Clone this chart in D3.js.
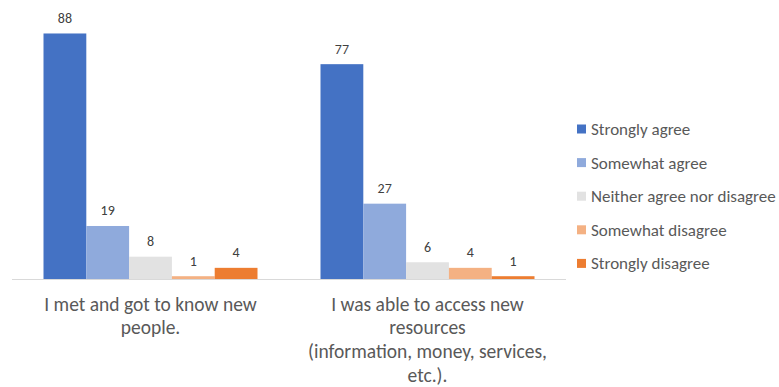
<!DOCTYPE html>
<html>
<head>
<meta charset="utf-8">
<script src="https://cdn.jsdelivr.net/npm/d3@7"></script>
<style>
  html, body { margin: 0; padding: 0; background: #fff; }
  svg { display: block; }
  text { font-family: Carlito, Lato, "Open Sans", sans-serif; fill: #595959; }
</style>
</head>
<body>
<svg id="chart" width="779" height="387"></svg>
<script>
// Survey statements shown along the x axis (one array entry per wrapped line)
const categories = [
  ["I met and got to know new", "people."],
  ["I was able to access new", "resources", "(information, money, services,", "etc.)."]
];
const seriesNames = ["Strongly agree", "Somewhat agree", "Neither agree nor disagree", "Somewhat disagree", "Strongly disagree"];
const seriesColors = ["#4472C4", "#8FAADC", "#E2E2E2", "#F4B183", "#ED7D31"];
// Responses per statement, in series order
const stronglyAgree = [88, 77];
const somewhatAgree = [19, 27];
const neither = [8, 6];
const somewhatDisagree = [1, 4];
const stronglyDisagree = [4, 1];
const seriesValues = [stronglyAgree, somewhatAgree, neither, somewhatDisagree, stronglyDisagree];

const svg = d3.select("#chart");
const plot = { left: 12, right: 566, top: 0, bottom: 279 };

const x0 = d3.scaleBand()
  .domain(d3.range(categories.length))
  .range([plot.left, plot.right])
  .paddingInner(0)
  .paddingOuter(0);

const groupPad = 31.5;
const x1 = d3.scaleBand()
  .domain(d3.range(seriesNames.length))
  .range([groupPad, x0.bandwidth() - groupPad]);

const y = d3.scaleLinear().domain([0, 100]).range([plot.bottom, plot.top]);

// Bars and value labels
const groups = svg.append("g").selectAll("g")
  .data(categories.map((c, i) => i))
  .join("g")
  .attr("transform", i => `translate(${x0(i)},0)`);

groups.selectAll("rect")
  .data(i => seriesValues.map((vals, s) => ({ s, v: vals[i] })))
  .join("rect")
  .attr("x", d => x1(d.s))
  .attr("width", x1.bandwidth())
  .attr("y", d => y(d.v))
  .attr("height", d => y(0) - y(d.v))
  .attr("fill", d => seriesColors[d.s]);

groups.selectAll("text.val")
  .data(i => seriesValues.map((vals, s) => ({ s, v: vals[i] })))
  .join("text")
  .attr("class", "val")
  .attr("x", d => x1(d.s) + x1.bandwidth() / 2)
  .attr("y", d => y(d.v) - 10.5)
  .attr("text-anchor", "middle")
  .attr("font-size", 14)
  .style("fill", "#404040")
  .text(d => d.v);

// Category axis baseline
svg.append("line")
  .attr("x1", plot.left).attr("x2", plot.right)
  .attr("y1", plot.bottom + 0.5).attr("y2", plot.bottom + 0.5)
  .attr("stroke", "#D9D9D9").attr("stroke-width", 1);

// Wrapped category labels
svg.append("g").selectAll("text")
  .data(categories)
  .join("text")
  .attr("text-anchor", "middle")
  .attr("font-size", 19.5)
  .each(function (lines, i) {
    d3.select(this).selectAll("tspan")
      .data(lines)
      .join("tspan")
      .attr("x", x0(i) + x0.bandwidth() / 2)
      .attr("y", (d, k) => 310.5 + k * 23.7)
      .text(d => d);
  });

// Legend
const legend = svg.append("g").attr("transform", "translate(577,0)");
const rows = legend.selectAll("g")
  .data(seriesNames)
  .join("g")
  .attr("transform", (d, i) => `translate(0,${129 + i * 33.6})`);
rows.append("rect")
  .attr("x", 0).attr("y", -4.5)
  .attr("width", 9).attr("height", 9)
  .attr("fill", (d, i) => seriesColors[i]);
rows.append("text")
  .attr("x", 14).attr("y", 6)
  .attr("font-size", 17)
  .text(d => d);
</script>
</body>
</html>
